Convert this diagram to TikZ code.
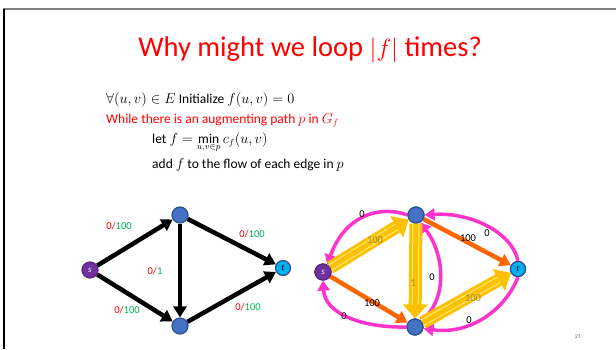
\documentclass[tikz,border=0pt]{standalone}
\usepackage{fontspec}
\setmainfont{Carlito}
\usetikzlibrary{arrows.meta}

\definecolor{slidered}{RGB}{255,0,0}
\definecolor{capgreen}{RGB}{0,176,80}
\definecolor{vblue}{RGB}{68,114,196}
\definecolor{vborder}{RGB}{47,82,143}
\definecolor{spurple}{RGB}{112,48,160}
\definecolor{tcyan}{RGB}{0,176,240}
\definecolor{resorange}{RGB}{255,102,0}
\definecolor{backpink}{RGB}{255,51,204}
\definecolor{pathgold}{RGB}{255,192,0}
\definecolor{pathlight}{RGB}{255,240,130}
\definecolor{pathtext}{RGB}{150,140,40}

\tikzset{
  vertex/.style={circle, fill=vblue, draw=vborder, line width=1.2pt, minimum size=16pt, inner sep=0pt},
  source/.style={vertex, fill=spurple, draw=spurple!80!black, text=white, font=\itshape\fontsize{9}{9}\selectfont},
  sink/.style={vertex, fill=tcyan, minimum size=15pt, font=\itshape\fontsize{9}{9}\selectfont},
  flowedge/.style={line width=4.5pt, -{Triangle[length=11pt,width=13pt]}},
  resedge/.style={resorange, line width=4.5pt, -{Triangle[length=11pt,width=13pt]}},
  backedge/.style={backpink, line width=3.5pt, -{Triangle[length=10pt,width=12pt]}},
  pathedge/.style={pathgold, line width=13pt, -{Triangle[length=14pt,width=24pt]}},
  pathstripe/.style={pathlight, line width=1pt, double=pathgold, double distance=5pt, shorten >=14pt},
  caplabel/.style={inner sep=0pt, font=\fontsize{10.5}{12}\selectfont},
  codeline/.style={anchor=base west, inner sep=0pt, font=\fontsize{13.5}{16}\selectfont},
}

\begin{document}
\begin{tikzpicture}[x=1pt,y=-1pt]
    \useasboundingbox (0,0) rectangle (616,349);

    % Slide frame
    \draw[gray, line width=2pt] (3,9) -- (616,9);
    \draw[black, line width=2pt] (4,9) -- (4,349);

    % Title and pseudocode
    \node[anchor=base, inner sep=0pt, text=slidered, font=\fontsize{28.5}{34}\selectfont] (title) at (310,56) {Why might we loop $|f|$ times?};
    \node[codeline] (init) at (106,103) {$\forall(u,v)\in E$ Initialize $f(u,v)=0$};
    \node[codeline, text=slidered] (loop) at (106,123) {While there is an augmenting path $p$ in $G_f$};
    \node[codeline] (let) at (152,143) {let $f=\min\limits_{u,v\in p} c_f(u,v)$};
    \node[codeline] (add) at (152,168) {add $f$ to the flow of each edge in $p$};

    % Flow network
    \node[source] (s) at (90,270) {s};
    \node[vertex] (a) at (180,215) {};
    \node[vertex] (b) at (180,326) {};
    \node[sink] (t) at (283,268) {t};

    \draw[flowedge] (s) -- (a);
    \draw[flowedge] (s) -- (b);
    \draw[flowedge] (a) -- (b);
    \draw[flowedge] (a) -- (t);
    \draw[flowedge] (b) -- (t);

    \node[caplabel] (sa) at (119,226) {\textcolor{slidered}{0/}\textcolor{capgreen}{100}};
    \node[caplabel] (sb) at (127,310) {\textcolor{slidered}{0/}\textcolor{capgreen}{100}};
    \node[caplabel] (ab) at (155,271) {\textcolor{slidered}{0/}\textcolor{capgreen}{1}};
    \node[caplabel] (at) at (252,234) {\textcolor{slidered}{0/}\textcolor{capgreen}{100}};
    \node[caplabel] (bt) at (248,307) {\textcolor{slidered}{0/}\textcolor{capgreen}{100}};

    % Residual network
    \node[source] (s2) at (323,272) {s};
    \node[vertex] (a2) at (416,215) {};
    \node[vertex] (b2) at (415,327) {};
    \node[sink] (t2) at (518,269) {t};

    % forward residual edges
    \draw[resedge] (s2) -- (b2);
    \draw[resedge] (a2) -- (t2);
    \draw[resedge] (s2) -- (a2);
    \draw[resedge] (a2) -- (b2);
    \draw[resedge] (b2) -- (t2);

    % backward residual edges
    \draw[backedge] (a2.west) .. controls (380,205) and (345,215) .. (s2.60);
    \draw[backedge] (t2.north) .. controls (512,232) and (470,212) .. (a2.east);
    \draw[backedge] (b2.north east) .. controls (448,300) and (445,255) .. (a2.-60);
    \draw[backedge] (b2.west) .. controls (365,328) and (325,315) .. (s2.south);
    \draw[backedge] (t2.south) .. controls (505,310) and (470,335) .. (b2.-10);

    % augmenting path
    \draw[pathedge] (s2) -- (a2);
    \draw[pathstripe] (s2) -- (a2);
    \draw[pathedge] (a2) -- (b2);
    \draw[pathstripe] (a2) -- (b2);
    \draw[pathedge] (b2) -- (t2);
    \draw[pathstripe] (b2) -- (t2);

    % redraw nodes on top
    \node[source] at (s2) {s};
    \node[vertex] at (a2) {};
    \node[vertex] at (b2) {};
    \node[sink] at (t2) {t};

    \node[caplabel] (sb2) at (372,303) {100};
    \node[caplabel] (at2) at (468,238) {100};
    \node[caplabel, text=pathtext] (sa2) at (375,240) {100};
    \node[caplabel, text=pathtext] (ab2) at (413,283) {1};
    \node[caplabel, text=pathtext] (bt2) at (473,298) {100};
    \node[caplabel] (as2) at (362,214) {0};
    \node[caplabel] (ta2) at (487,233) {0};
    \node[caplabel] (ba2) at (432,277) {0};
    \node[caplabel] (bs2) at (344,316) {0};
    \node[caplabel] (tb2) at (469,320) {0};

    % Page number
    \node[inner sep=0pt, text=gray, font=\fontsize{6}{7}\selectfont] (page) at (578,337) {21};
\end{tikzpicture}
\end{document}
